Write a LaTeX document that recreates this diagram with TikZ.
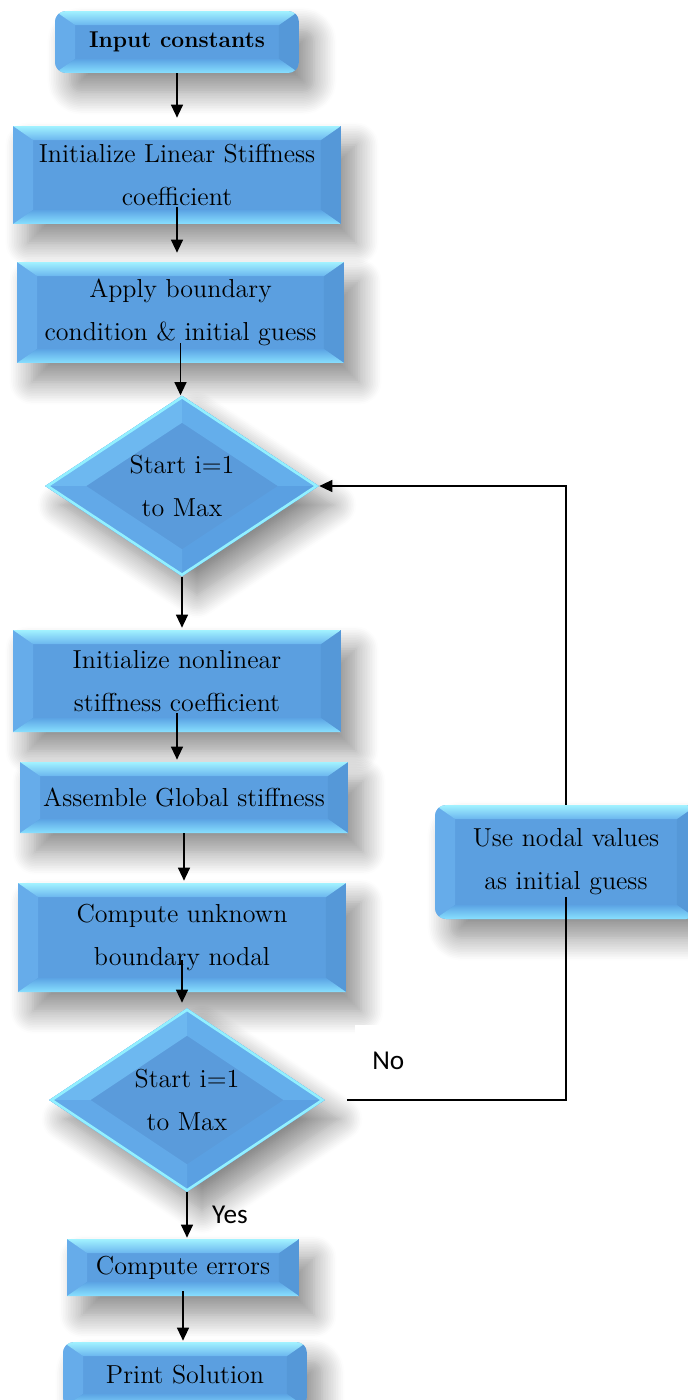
\documentclass[tikz,border=0pt]{standalone}
\usepackage{fontspec}
\newfontfamily\calib{Carlito}
\usetikzlibrary{arrows.meta,shapes.geometric,shadows.blur,calc}
\definecolor{bcen}{HTML}{5B9FE0}
\definecolor{btopA}{HTML}{A2F2FF}
\definecolor{btopB}{HTML}{6BB6EF}
\definecolor{bbotA}{HTML}{5CA4E4}
\definecolor{bbotB}{HTML}{88E0FF}
\definecolor{bleft}{HTML}{66ACEA}
\definecolor{bright}{HTML}{5598D8}
\definecolor{dcen}{HTML}{5A9BDB}
\definecolor{dTL}{HTML}{6DB8F0}
\definecolor{dTR}{HTML}{64AEEB}
\definecolor{dBR}{HTML}{5AA0E2}
\definecolor{dBL}{HTML}{62A9E8}
\definecolor{dRim}{HTML}{92F0FF}
\tikzset{
  bshadow/.style={blur shadow={shadow xshift=0.3cm, shadow yshift=-0.38cm,
      shadow blur radius=0.45cm, shadow blur steps=14, shadow opacity=45}},
  bevbox/.style={rectangle, inner sep=0pt, align=center, fill=bcen, bshadow,
    font=\fontsize{14.8}{24.5}\selectfont,
    path picture={
      \coordinate (q1) at (path picture bounding box.north west);
      \coordinate (q2) at (path picture bounding box.north east);
      \coordinate (q3) at (path picture bounding box.south east);
      \coordinate (q4) at (path picture bounding box.south west);
      \coordinate (i1) at ([shift={(0.4cm,-0.28cm)}]q1);
      \coordinate (i2) at ([shift={(-0.4cm,-0.28cm)}]q2);
      \coordinate (i3) at ([shift={(-0.4cm,0.28cm)}]q3);
      \coordinate (i4) at ([shift={(0.4cm,0.28cm)}]q4);
      \fill[bleft, sharp corners] (q1) -- (i1) -- (i4) -- (q4) -- cycle;
      \fill[bright, sharp corners] (q2) -- (i2) -- (i3) -- (q3) -- cycle;
      \shade[top color=btopA, bottom color=btopB, sharp corners] (q1) -- (q2) -- (i2) -- (i1) -- cycle;
      \shade[top color=bbotA, bottom color=bbotB, sharp corners] (i4) -- (i3) -- (q3) -- (q4) -- cycle;
    }},
  rbox/.style={bevbox, rounded corners=0.22cm},
  bevdia/.style={diamond, inner sep=0pt, align=center, fill=dcen, bshadow,
    font=\fontsize{14.8}{24.5}\selectfont,
    path picture={
      \coordinate (dc) at (path picture bounding box.center);
      \coordinate (dN) at (path picture bounding box.north);
      \coordinate (dE) at (path picture bounding box.east);
      \coordinate (dS) at (path picture bounding box.south);
      \coordinate (dW) at (path picture bounding box.west);
      \coordinate (eN) at ($(dc)!0.7!(dN)$);
      \coordinate (eE) at ($(dc)!0.7!(dE)$);
      \coordinate (eS) at ($(dc)!0.7!(dS)$);
      \coordinate (eW) at ($(dc)!0.7!(dW)$);
      \fill[dTL] (dW) -- (dN) -- (eN) -- (eW) -- cycle;
      \fill[dTR] (dN) -- (dE) -- (eE) -- (eN) -- cycle;
      \fill[dBR] (dE) -- (dS) -- (eS) -- (eE) -- cycle;
      \fill[dBL] (dS) -- (dW) -- (eW) -- (eS) -- cycle;
      \draw[dRim, line width=3pt] (dS) -- (dW) -- (dN) -- (dE) -- (dS);
    }},
  conn/.style={line width=0.7pt, -{Triangle[length=0.26cm, width=0.24cm]}},
  plain/.style={line width=0.7pt},
  lbl/.style={font=\calib\fontsize{15.5}{18}\selectfont, inner sep=0pt}
}
\begin{document}
\begin{tikzpicture}[x=0.02cm, y=-0.02cm]
\useasboundingbox (0,0) rectangle (687,1400);
\node[rbox, font=\bfseries\fontsize{13}{15}\selectfont, minimum width=4.88cm, minimum height=1.24cm] (n1) at (177,42) {Input constants};
\node[bevbox, minimum width=6.56cm, minimum height=1.96cm] (n2) at (177,175) {Initialize Linear Stiffness\\coefficient};
\node[bevbox, minimum width=6.54cm, minimum height=2.02cm] (n3) at (180.5,312.5) {Apply boundary\\condition \& initial guess};
\node[bevdia, minimum width=5.48cm, minimum height=3.62cm] (d1) at (182,486) {Start i=1\\to Max};
\node[bevbox, minimum width=6.56cm, minimum height=2.04cm] (n5) at (177,681) {Initialize nonlinear\\stiffness coefficient};
\node[bevbox, minimum width=6.56cm, minimum height=1.42cm] (n6) at (184,797.5) {Assemble Global stiffness};
\node[bevbox, minimum width=6.56cm, minimum height=2.18cm] (n7) at (182,937.5) {Compute unknown\\boundary nodal};
\node[bevdia, minimum width=5.52cm, minimum height=3.68cm] (d2) at (187,1100) {Start i=1\\to Max};
\node[bevbox, minimum width=4.64cm, minimum height=1.14cm] (n8) at (183,1267.5) {Compute errors};
\node[rbox, minimum width=4.88cm, minimum height=1.32cm] (n9) at (185,1375) {Print Solution};
\node[rbox, minimum width=5.24cm, minimum height=2.28cm] (uv) at (566,862) {Use nodal values\\as initial guess};
\node[lbl, fill=white, anchor=north west, text width=1.3cm, align=left, inner xsep=0.34cm, minimum height=1.4cm] (no) at (355,1025) {No};
\node[lbl] (yes) at (230,1215) {Yes};
\draw[conn] (n1.south) -- ([yshift=0.16cm]n1.south |- n2.north);
\draw[conn] ([yshift=0.34cm]n2.south) -- ([yshift=0.18cm]n2.south |- n3.north);
\draw[conn] ([yshift=0.4cm]n3.south) -- (n3.south |- d1.north);
\draw[conn] (d1.south) -- ([yshift=0.04cm]d1.south |- n5.north);
\draw[conn] ([yshift=0.38cm]n5.south) -- ([yshift=0.04cm]n5.south |- n6.north);
\draw[conn] (n6.south) -- ([yshift=0.04cm]n6.south |- n7.north);
\draw[conn] ([yshift=0.64cm]n7.south) -- ([yshift=0.1cm]n7.south |- d2.north);
\draw[conn] (d2.south) -- ([yshift=0.02cm]d2.south |- n8.north);
\draw[conn] ([yshift=0.1cm]n8.south) -- ([yshift=0.02cm]n8.south |- n9.north);
\draw[conn] (uv.north) |- (d1.east);
\draw[plain] ([yshift=0.44cm]uv.south) |- ([xshift=0.44cm]d2.east);
\end{tikzpicture}
\end{document}
